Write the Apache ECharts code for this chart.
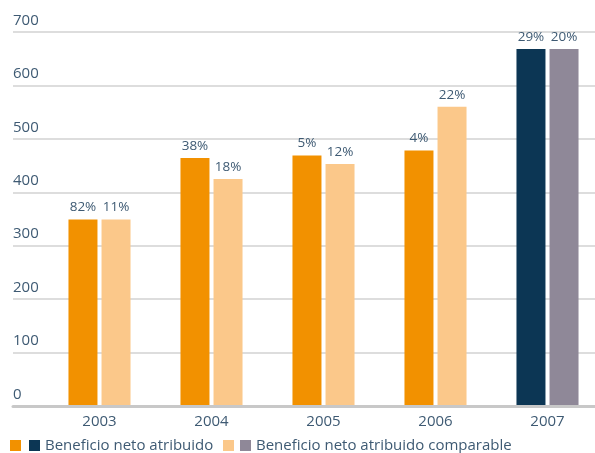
<!DOCTYPE html>
<html>
<head>
<meta charset="utf-8">
<script src="https://cdn.jsdelivr.net/npm/echarts@6/dist/echarts.min.js"></script>
<style>html,body{margin:0;padding:0;background:#fff;}#c{width:595px;height:453px;}</style>
</head>
<body>
<div id="c"></div>
<script>
const years = ['2003', '2004', '2005', '2006', '2007'];
const yTicks = [0, 100, 200, 300, 400, 500, 600, 700];
const netoValues = [349, 464, 469, 478, null];
const neto2007Values = [null, null, null, null, 668];
const compValues = [349, 425, 453, 560, null];
const comp2007Values = [null, null, null, null, 668];
const netoLabels = ['82%', '38%', '5%', '4%', '29%'];
const compLabels = ['11%', '18%', '12%', '22%', '20%'];
const nameNeto = 'Beneficio neto atribuido';
const nameComp = 'Beneficio neto atribuido comparable';

const FONT = 'Open Sans';
const TXT = '#3e5a73';
const chart = echarts.init(document.getElementById('c'), null, {renderer: 'canvas'});

function lbl(arr) {
  return {
    show: true, position: 'top', distance: 5,
    color: TXT, fontFamily: FONT, fontSize: 13.5,
    formatter: p => arr[p.dataIndex]
  };
}
const common = {type: 'bar', xAxisIndex: 1, yAxisIndex: 1, barWidth: 29, barGap: '14%'};

chart.setOption({
  animation: false,
  textStyle: {fontFamily: FONT},
  grid: [
    {left: 13, right: 0, top: 32, bottom: 47, outerBoundsMode: 'none', containLabel: false},
    {left: 43.5, width: 560, top: 32, bottom: 47, outerBoundsMode: 'none', containLabel: false}
  ],
  xAxis: [
    {gridIndex: 0, type: 'category', data: years, axisTick: {show: false}, axisLabel: {show: false},
     axisLine: {lineStyle: {color: '#c8c8c8', width: 3}}, z: 5},
    {gridIndex: 1, type: 'category', data: years, axisTick: {show: false}, axisLine: {show: false},
     axisLabel: {color: TXT, fontFamily: FONT, fontSize: 15, margin: 8}}
  ],
  yAxis: [
    {gridIndex: 0, type: 'value', min: yTicks[0], max: yTicks[yTicks.length - 1], interval: 100,
     axisLine: {show: false}, axisTick: {show: false},
     splitLine: {lineStyle: {color: '#dddddd', width: 2}},
     axisLabel: {inside: true, margin: 0, verticalAlign: 'bottom', padding: [0, 0, 4, 0],
                 color: TXT, fontFamily: FONT, fontSize: 15}},
    {gridIndex: 1, type: 'value', min: yTicks[0], max: yTicks[yTicks.length - 1], show: false}
  ],
  legend: [
    {left: 10, top: 438, padding: 0, itemWidth: 11, itemHeight: 11, itemGap: 8, icon: 'rect',
     data: ['o', nameNeto], formatter: n => n === 'o' ? '' : n,
     textStyle: {color: TXT, fontFamily: FONT, fontSize: 15}, selectedMode: false},
    {left: 223, top: 438, padding: 0, itemWidth: 11, itemHeight: 11, itemGap: 6, icon: 'rect',
     data: ['l', nameComp], formatter: n => n === 'l' ? '' : n,
     textStyle: {color: TXT, fontFamily: FONT, fontSize: 15}, selectedMode: false}
  ],
  series: [
    Object.assign({}, common, {name: 'o', stack: 'a', data: netoValues,
      itemStyle: {color: '#f29100'}, label: lbl(netoLabels)}),
    Object.assign({}, common, {name: nameNeto, stack: 'a', data: neto2007Values,
      itemStyle: {color: '#0c3654'}, label: lbl(netoLabels)}),
    Object.assign({}, common, {name: 'l', stack: 'b', data: compValues,
      itemStyle: {color: '#fbc88a'}, label: lbl(compLabels)}),
    Object.assign({}, common, {name: nameComp, stack: 'b', data: comp2007Values,
      itemStyle: {color: '#8f8898'}, label: lbl(compLabels)})
  ]
});
</script>
</body>
</html>
